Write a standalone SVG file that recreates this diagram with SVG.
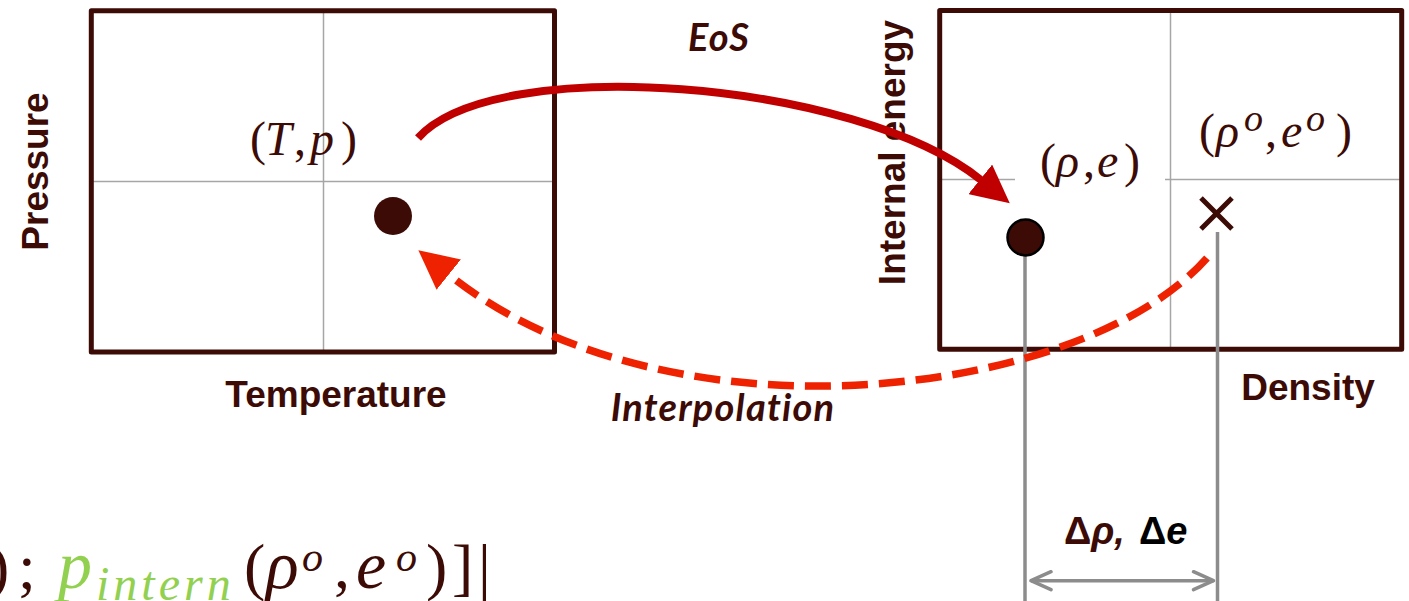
<svg xmlns="http://www.w3.org/2000/svg" width="1409" height="601" viewBox="0 0 1409 601">
<defs>
<style>
.frame{fill:none;stroke:#3c0b06;stroke-width:5;stroke-linejoin:round}
.grid{stroke:#a6a6a6;stroke-width:1.5;fill:none}
.axis{font-family:"Liberation Sans",Arial,sans-serif;font-weight:bold;font-size:37px;fill:#3c0b06}
.math{font-family:"Liberation Serif","Times New Roman",serif;font-style:italic;font-size:48px;fill:#3c0b06}
.up{font-style:normal}
.lbl{font-family:Lato,"Liberation Sans",sans-serif;font-weight:bold;font-style:italic;font-size:38px;letter-spacing:1.2px;fill:#3c0b06}
.guide{stroke:#8c8c8c;stroke-width:3.5;fill:none}
.eos{fill:none;stroke:#c00000;stroke-width:8}
.interp{fill:none;stroke:#ee2200;stroke-width:7.5;stroke-dasharray:26 11}
.green{fill:#92d050}
</style>
<marker id="ahSolid" markerUnits="userSpaceOnUse" viewBox="0 0 38 38" markerWidth="38" markerHeight="38" refX="1" refY="19" orient="auto"><path d="M0,0 L38,19 L0,38 z" fill="#c00000"/></marker>
<marker id="ahDash" markerUnits="userSpaceOnUse" viewBox="0 0 39 39" markerWidth="39" markerHeight="39" refX="1" refY="19.5" orient="auto"><path d="M0,0 L39,19.5 L0,39 z" fill="#ee2200"/></marker>
<marker id="chev" markerUnits="userSpaceOnUse" viewBox="-24 -12 26 24" markerWidth="26" markerHeight="24" refX="0" refY="0" orient="auto-start-reverse"><path d="M-20,-9 L0,0 L-20,9" fill="none" stroke="#8c8c8c" stroke-width="3.5" stroke-linecap="round" stroke-linejoin="round"/></marker>
</defs>
<rect width="1409" height="601" fill="#ffffff"/>

<g id="node-pT-chart">
<line class="grid" x1="323.5" y1="13" x2="323.5" y2="350"/>
<line class="grid" x1="93" y1="181.5" x2="553" y2="181.5"/>
<rect class="frame" x="91.3" y="10.8" width="463.2" height="341.2"/>
<text class="axis" transform="translate(47.5,171.5) rotate(-90)" text-anchor="middle">Pressure</text>
<text class="axis" x="336" y="407" text-anchor="middle">Temperature</text>
<text class="math" y="155"><tspan class="up" x="250">(</tspan><tspan x="265">T</tspan><tspan class="up" x="294">,</tspan><tspan x="310">p</tspan><tspan class="up" x="341">)</tspan></text>
<circle cx="393" cy="216" r="19" fill="#3c0b06"/>
</g>

<g id="node-rho-e-chart">
<line class="grid" x1="1170.5" y1="12" x2="1170.5" y2="347"/>
<line class="grid" x1="942" y1="179.5" x2="1015" y2="179.5"/>
<line class="grid" x1="1165" y1="179.5" x2="1400" y2="179.5"/>
<rect class="frame" x="939.7" y="10.5" width="462" height="338.7"/>
<text class="axis" transform="translate(905,152.5) rotate(-90)" text-anchor="middle">Internal energy</text>
<text class="axis" x="1308" y="400" text-anchor="middle">Density</text>
<text class="math" y="177"><tspan class="up" x="1040">(</tspan><tspan x="1056">ρ</tspan><tspan class="up" x="1083">,</tspan><tspan x="1097">e</tspan><tspan class="up" x="1124">)</tspan></text>
<text class="math" y="147"><tspan class="up" x="1199">(</tspan><tspan x="1216">ρ</tspan><tspan x="1244" y="131" style="font-size:38px">o</tspan><tspan class="up" x="1265" y="147">,</tspan><tspan x="1281">e</tspan><tspan x="1306" y="131" style="font-size:38px">o</tspan><tspan class="up" x="1336" y="147">)</tspan></text>
</g>

<g id="node-formula">
<text class="math" y="588" style="font-size:64px"><tspan class="up" x="-12">)</tspan><tspan class="up" x="18">;</tspan><tspan class="green" x="58" style="font-size:68px">p</tspan><tspan class="green" x="96" y="600" style="font-size:48px;letter-spacing:4px">intern</tspan><tspan class="up" x="244" y="588">(</tspan><tspan x="266" style="font-size:68px">ρ</tspan><tspan x="302" y="571" style="font-size:42px">o</tspan><tspan class="up" x="334" y="588">,</tspan><tspan x="356" style="font-size:68px">e</tspan><tspan x="396" y="571" style="font-size:42px">o</tspan><tspan class="up" x="426" y="588">)</tspan><tspan class="up" x="452">]</tspan><tspan class="up" x="478">|</tspan></text>
</g>

<g id="connectors">
<path class="guide" d="M1025,256 V601"/>
<path class="guide" d="M1217.5,232 V601"/>
<path class="guide" d="M1031,580.7 H1213.5" marker-start="url(#chev)" marker-end="url(#chev)"/>
<path class="interp" d="M1207,258 C1080,401 665,448 448,274" marker-end="url(#ahDash)"/>
<path class="eos" d="M418,138 C495,52 857,80 981,180" marker-end="url(#ahSolid)"/>
</g>

<g id="node-rho-e-points">
<circle cx="1025.5" cy="237.5" r="18" fill="#3c0b06" stroke="#000000" stroke-width="2.5"/>
<path d="M1201,198 L1232,229 M1232,198 L1201,229" stroke="#3c0b06" stroke-width="5" fill="none"/>
</g>

<g id="labels">
<text class="lbl" x="719" y="51" text-anchor="middle">EoS</text>
<text class="lbl" x="723" y="421" text-anchor="middle">Interpolation</text>
<text font-family="'Liberation Sans',Arial,sans-serif" font-weight="bold" font-size="38" y="544"><tspan x="1064" fill="#3c0b06">Δ</tspan><tspan fill="#3c0b06" font-style="italic">ρ,</tspan><tspan x="1139" fill="#000000">Δ</tspan><tspan fill="#000000" font-style="italic">e</tspan></text>
</g>
</svg>
